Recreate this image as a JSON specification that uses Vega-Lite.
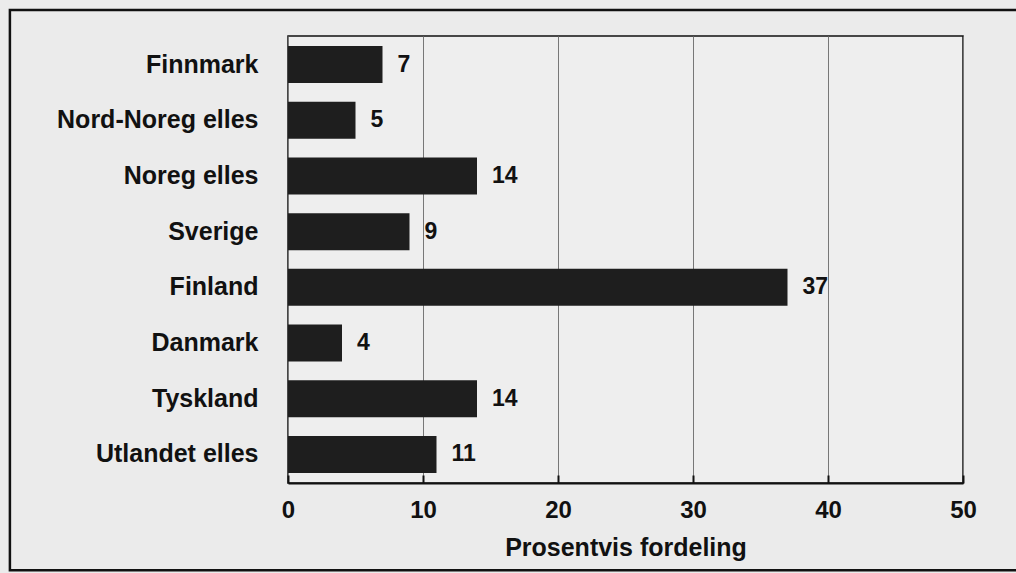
{
  "$schema": "https://vega.github.io/schema/vega-lite/v6.json",
  "width": 675,
  "height": 447,
  "autosize": {"type": "none"},
  "padding": {"left": 288, "top": 36, "right": 53, "bottom": 90},
  "background": "#ebebeb",
  "config": {
    "font": "Liberation Sans",
    "view": {"stroke": "#111", "strokeWidth": 1.5, "fill": "#eeeeee"}
  },
  "datasets": {
    "main": [
      {"region": "Finnmark", "pct": 7},
      {"region": "Nord-Noreg elles", "pct": 5},
      {"region": "Noreg elles", "pct": 14},
      {"region": "Sverige", "pct": 9},
      {"region": "Finland", "pct": 37},
      {"region": "Danmark", "pct": 4},
      {"region": "Tyskland", "pct": 14},
      {"region": "Utlandet elles", "pct": 11}
    ]
  },
  "resolve": {"scale": {"y": "independent"}, "axis": {"y": "independent"}},
  "layer": [
    {
      "data": {"values": [{}]},
      "mark": {"type": "rect", "filled": false, "stroke": "#111", "strokeWidth": 2.5, "clip": false},
      "encoding": {
        "x": {"datum": -20.6, "type": "quantitative", "scale": {"domain": [0, 50], "nice": false, "zero": false}},
        "x2": {"datum": 56},
        "y": {"datum": 1.058, "type": "quantitative", "scale": {"domain": [0, 1], "nice": false, "zero": false}, "axis": null},
        "y2": {"datum": -0.195}
      }
    },
    {
      "data": {"name": "main"},
      "layer": [
        {
          "mark": {"type": "bar", "color": "#1e1e1e"},
          "encoding": {
            "y": {
              "field": "region", "type": "nominal", "sort": null,
              "scale": {"paddingInner": 0.336, "paddingOuter": 0.18},
              "axis": {
                "title": null, "domain": false, "ticks": false,
                "labelPadding": 30, "labelFontSize": 25, "labelFontWeight": "bold",
                "labelColor": "#111", "labelFont": "Liberation Sans", "labelLimit": 400
              }
            },
            "x": {
              "field": "pct", "type": "quantitative",
              "scale": {"domain": [0, 50], "nice": false},
              "axis": {
                "title": "Prosentvis fordeling",
                "values": [0, 10, 20, 30, 40, 50],
                "grid": true, "gridColor": "#777", "gridWidth": 1,
                "ticks": true, "tickSize": -8, "tickColor": "#111", "tickWidth": 2,
                "domain": true, "domainColor": "#111", "domainWidth": 2,
                "labelFontSize": 24, "labelFontWeight": "bold", "labelColor": "#111",
                "labelPadding": 23, "labelFlush": false,
                "titleFontSize": 25, "titleFontWeight": "bold", "titleColor": "#111",
                "titlePadding": 13
              }
            }
          }
        },
        {
          "mark": {"type": "text", "align": "left", "baseline": "middle", "dx": 15, "fontSize": 23, "fontWeight": "bold", "color": "#111"},
          "encoding": {
            "y": {"field": "region", "type": "nominal", "sort": null},
            "x": {"field": "pct", "type": "quantitative"},
            "text": {"field": "pct", "type": "quantitative"}
          }
        }
      ]
    }
  ]
}
